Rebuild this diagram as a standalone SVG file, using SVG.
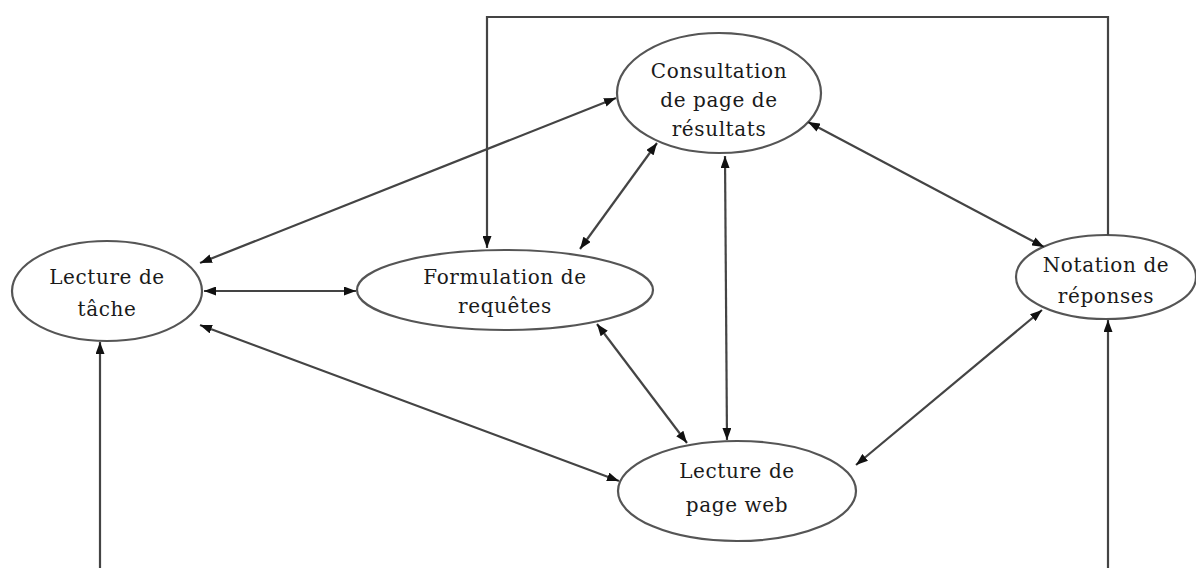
<svg xmlns="http://www.w3.org/2000/svg" width="1196" height="568" viewBox="0 0 1196 568">
<style>
.node ellipse{fill:#fff;stroke:#555;stroke-width:2.2}
.node text{font-family:"DejaVu Serif","Liberation Serif",serif;font-size:20px;letter-spacing:0.6px;fill:#1a1a1a;text-anchor:middle}
.edges line,.edges polyline{stroke:#444;stroke-width:2.2;fill:none}
.bi{marker-start:url(#ah);marker-end:url(#ah)}
.uni{marker-end:url(#ah)}
</style>
<defs>
<marker id="ah" viewBox="0 0 12 9" refX="12" refY="4.5" markerWidth="12" markerHeight="9" markerUnits="userSpaceOnUse" orient="auto-start-reverse">
<path d="M0,0 L12,4.5 L0,9 z" fill="#111"/>
</marker>
</defs>
<rect width="1196" height="568" fill="#fff"/>
<g id="node-lecture-tache" class="node">
<ellipse cx="107" cy="291" rx="95" ry="50"/>
<text x="107" y="284">Lecture de</text>
<text x="107" y="316">tâche</text>
</g>
<g id="node-formulation" class="node">
<ellipse cx="505" cy="290" rx="148" ry="40"/>
<text x="505" y="284">Formulation de</text>
<text x="505" y="313">requêtes</text>
</g>
<g id="node-consultation" class="node">
<ellipse cx="719" cy="93" rx="102" ry="60"/>
<text x="719" y="78">Consultation</text>
<text x="719" y="107">de page de</text>
<text x="719" y="136">résultats</text>
</g>
<g id="node-notation" class="node">
<ellipse cx="1106" cy="277" rx="90" ry="42"/>
<text x="1106" y="272">Notation de</text>
<text x="1106" y="303">réponses</text>
</g>
<g id="node-lecture-web" class="node">
<ellipse cx="737" cy="491" rx="119" ry="50"/>
<text x="737" y="478">Lecture de</text>
<text x="737" y="512">page web</text>
</g>
<g id="connectors" class="edges">
<line class="bi" x1="200" y1="263" x2="616" y2="98"/>
<line class="bi" x1="204" y1="291" x2="356" y2="291"/>
<line class="bi" x1="200" y1="325" x2="619" y2="481"/>
<line class="bi" x1="580" y1="249" x2="657" y2="143"/>
<line class="bi" x1="725" y1="156" x2="727" y2="440"/>
<line class="bi" x1="808" y1="122" x2="1044" y2="247"/>
<line class="bi" x1="597" y1="324" x2="687" y2="443"/>
<line class="bi" x1="856" y1="465" x2="1042" y2="310"/>
<polyline class="uni" points="1108,235 1108,17 487,17 487,248"/>
<line class="uni" x1="100" y1="568" x2="100" y2="342"/>
<line class="uni" x1="1108" y1="568" x2="1108" y2="320"/>
</g>
</svg>
